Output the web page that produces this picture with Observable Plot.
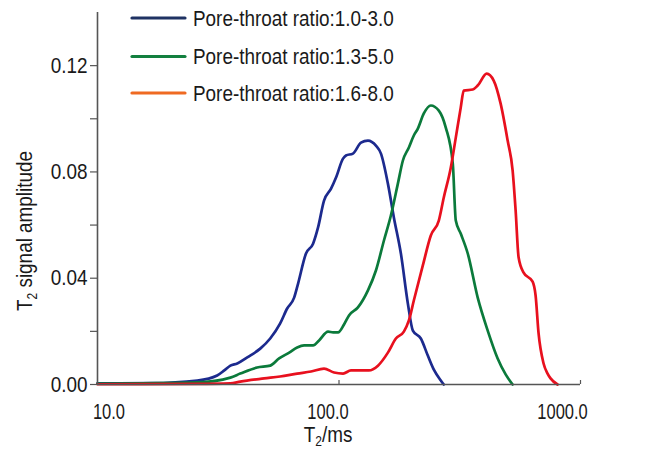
<!DOCTYPE html>
<html><head><meta charset="utf-8">
<script src="https://cdn.jsdelivr.net/npm/d3@7"></script>
<script src="https://cdn.jsdelivr.net/npm/@observablehq/plot@0.6"></script>
<style>
body{margin:0;background:#fff;}
#chart svg{display:block;}
</style></head><body><div id="chart"></div>
<script>
const seriesNames = ["Pore-throat ratio:1.0-3.0", "Pore-throat ratio:1.3-5.0", "Pore-throat ratio:1.6-8.0"];
const lineColors = ["#1c2a8e", "#0b7a3b", "#e8101e"];
const legendColors = ["#1f3263", "#13803f", "#ef6a22"];

const t2Blue = [10, 16.7, 25.9, 31.3, 33.5, 35.5, 37.9, 41.7, 47.2, 51.9, 57.0, 61.0, 65.2, 67.7, 73.0, 78.1, 81.9, 86.7, 92.7, 97.2, 103.9, 106.9, 114.2, 123.3, 131.8, 142.2, 149.2, 159.4, 168.8, 180.4, 192.8, 202.2, 218.2, 233.2, 247.0, 264.0, 271.6];
const ampBlue = [0.0004, 0.0005, 0.0015, 0.0034, 0.0053, 0.0071, 0.0079, 0.0102, 0.0135, 0.0173, 0.0229, 0.0286, 0.0327, 0.0380, 0.0493, 0.0530, 0.0591, 0.0692, 0.0737, 0.0779, 0.0850, 0.0862, 0.0869, 0.0910, 0.0918, 0.0899, 0.0869, 0.0756, 0.0628, 0.0493, 0.0305, 0.0203, 0.0173, 0.0109, 0.0056, 0.0015, 0.0];

const t2Green = [10, 25.9, 35.5, 39.0, 45.8, 51.9, 56.5, 62.2, 67.1, 71.7, 78.1, 82.7, 90.1, 94.5, 99.1, 104.9, 110.0, 119.8, 131.8, 142.2, 153.5, 164.0, 175.3, 183.9, 194.7, 204.1, 212.1, 224.5, 240.0, 259.0, 276.8, 295.9, 304.5, 319.2, 341.3, 375.3, 412.8, 453.9, 489.8, 523.6];
const ampGreen = [0.0003, 0.0008, 0.0026, 0.0041, 0.0064, 0.0071, 0.0098, 0.0120, 0.0139, 0.0147, 0.0147, 0.0166, 0.0199, 0.0196, 0.0196, 0.0226, 0.0260, 0.0290, 0.0354, 0.0429, 0.0542, 0.0636, 0.0756, 0.0843, 0.0892, 0.0937, 0.0963, 0.1020, 0.1050, 0.1031, 0.0967, 0.0831, 0.0617, 0.0568, 0.0493, 0.0327, 0.0203, 0.0098, 0.0038, 0.0];

const t2Red = [10, 25.9, 35.5, 39.0, 49.0, 57.0, 67.1, 76.6, 86.7, 95.4, 103.9, 112.1, 133.0, 145.0, 159.4, 172.0, 185.6, 194.7, 204.1, 222.4, 240.0, 259.0, 271.6, 290.3, 304.5, 319.2, 328.5, 357.9, 375.3, 408.9, 437.1, 467.0, 499.3, 523.6, 538.7, 554.3, 581.4, 633.5, 651.7, 670.5, 703.2, 730.5, 751.6, 803.5];
const ampRed = [0.0001, 0.0002, 0.0004, 0.0011, 0.0023, 0.0030, 0.0041, 0.0049, 0.0060, 0.0045, 0.0041, 0.0053, 0.0053, 0.0071, 0.0120, 0.0173, 0.0199, 0.0241, 0.0316, 0.0448, 0.0561, 0.0617, 0.0704, 0.0816, 0.0929, 0.1042, 0.1106, 0.1110, 0.1125, 0.1170, 0.1144, 0.1057, 0.0918, 0.0805, 0.0655, 0.0478, 0.0421, 0.0387, 0.0335, 0.0192, 0.0079, 0.0041, 0.0023, 0.0];

const xTickValues = [10, 100, 1000];
const xTickLabels = ["10.0", "100.0", "1000.0"];
const yTickValues = [0, 0.04, 0.08, 0.12];
const yTickLabels = ["0.00", "0.04", "0.08", "0.12"];
const yMinorTicks = [0.02, 0.06, 0.10];
const xTitle = ["T", "2", "/ms"];
const yTitle = ["T", "2", " signal amplitude"];

const FONT = "'Liberation Sans', Arial, sans-serif";

const t2s = [t2Blue, t2Green, t2Red];
const amps = [ampBlue, ampGreen, ampRed];
const data = [];
seriesNames.forEach((name, i) => t2s[i].forEach((t, j) => data.push({series: name, t2: t, amp: amps[i][j]})));

const axisColor = "#555";
const labelDx = [11.5, -11, -18];

const chart = Plot.plot({
  width: 659, height: 449,
  marginLeft: 97, marginRight: 79, marginTop: 12, marginBottom: 65,
  x: {type: "log", domain: [10, 1000]},
  y: {domain: [0, 0.14]},
  color: {domain: seriesNames, range: lineColors},
  style: {fontFamily: FONT, fontSize: "22px", color: "#1a1a1a", background: "#fff", overflow: "visible"},
  marks: [
    Plot.line(data, {x: "t2", y: "amp", z: "series", stroke: "series", strokeWidth: 2.7, curve: "monotone-x"}),
    Plot.ruleX([10], {stroke: axisColor, strokeWidth: 1.6}),
    Plot.ruleY([0], {stroke: axisColor, strokeWidth: 1.6}),
    Plot.axisY(yTickValues, {tickSize: 7, tickPadding: 3, stroke: axisColor, strokeWidth: 1.2, fill: "#1a1a1a", tickFormat: (d, i) => yTickLabels[i], label: null}),
    Plot.axisY(yMinorTicks, {tickSize: 7, stroke: axisColor, strokeWidth: 1.2, tickFormat: () => "", label: null}),
    Plot.axisX([100, 1000], {tickSize: 4, dy: -4, stroke: axisColor, strokeWidth: 1.2, tickFormat: () => "", label: null}),
    ...xTickValues.map((v, i) => Plot.axisX([v], {tickSize: 0, tickPadding: 19, dx: labelDx[i], fill: "#1a1a1a", tickFormat: () => xTickLabels[i], label: null}))
  ]
});

document.getElementById("chart").appendChild(chart);
const svg = d3.select(chart);

// narrow the tick label glyphs horizontally (reference uses a condensed face)
svg.selectAll("text").each(function () {
  const t = this.getAttribute("transform");
  if (!t) return;
  const isY = this.closest("g") && this.closest("g").getAttribute("text-anchor") === "end";
  this.setAttribute("transform", `${t} scale(${isY ? 0.86 : 0.75},1)`);
});

// axis titles
const xt = svg.append("text").attr("transform", "translate(328,442) scale(0.86,1)").attr("text-anchor", "middle")
  .attr("font-family", FONT).attr("font-size", 22).attr("fill", "#1a1a1a");
xt.append("tspan").text(xTitle[0]);
xt.append("tspan").attr("font-size", 14).attr("dy", 4).text(xTitle[1]);
xt.append("tspan").attr("dy", -4).text(xTitle[2]);

const yt = svg.append("text").attr("transform", "translate(32,231) rotate(-90) scale(0.86,1)").attr("text-anchor", "middle")
  .attr("font-family", FONT).attr("font-size", 22).attr("fill", "#1a1a1a");
yt.append("tspan").text(yTitle[0]);
yt.append("tspan").attr("font-size", 14).attr("dy", 5).text(yTitle[1]);
yt.append("tspan").attr("dy", -5).text(yTitle[2]);

// legend
const legendY = [18, 56.5, 93];
seriesNames.forEach((name, i) => {
  svg.append("line").attr("x1", 132).attr("x2", 185).attr("y1", legendY[i]).attr("y2", legendY[i])
    .attr("stroke", legendColors[i]).attr("stroke-width", 3.2).attr("stroke-linecap", "round");
  svg.append("text").attr("transform", `translate(193,${legendY[i]}) scale(0.86,1)`).attr("dy", "0.36em")
    .attr("text-anchor", "start")
    .attr("font-family", FONT).attr("font-size", 22).attr("fill", "#1a1a1a").text(name);
});
</script></body></html>
